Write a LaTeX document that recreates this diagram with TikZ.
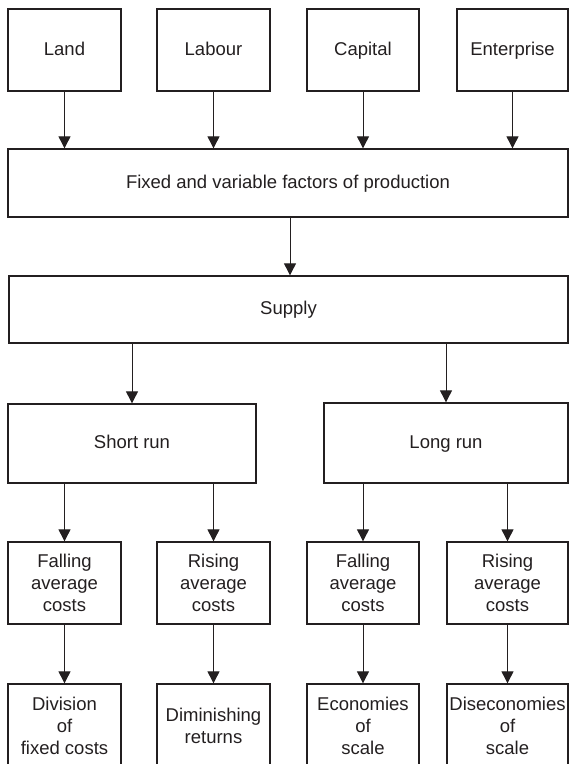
\documentclass[tikz,border=0pt]{standalone}
\usepackage{fontspec}
\setmainfont{Liberation Sans}
\usetikzlibrary{arrows.meta}
\definecolor{ink}{HTML}{231F20}
\tikzset{
  box/.style={draw=ink, line width=1.3pt, rectangle, inner sep=0pt, align=center,
    text=ink, font=\fontsize{18.5}{22}\selectfont},
  oneline/.style={text height=13.5pt, text depth=3.5pt},
  arr/.style={draw=ink, line width=0.9pt, -{Triangle[width=12pt,length=12pt]}}
}
\begin{document}
\begin{tikzpicture}[x=1pt,y=-1pt]
\useasboundingbox (0,0) rectangle (569,764);
\clip (0,0) rectangle (569,764);
% top row
\node[box, oneline, minimum width=113pt, minimum height=82pt] (land) at (64.5,50) {Land};
\node[box, oneline, minimum width=113pt, minimum height=82pt] (labour) at (213.5,50) {Labour};
\node[box, oneline, minimum width=112pt, minimum height=82pt] (capital) at (363,50) {Capital};
\node[box, oneline, minimum width=111pt, minimum height=82pt] (enter) at (512.5,50) {Enterprise};
% wide boxes
\node[box, oneline, minimum width=560pt, minimum height=68pt] (fixed) at (288,183) {Fixed and variable factors of production};
\node[box, oneline, minimum width=559pt, minimum height=67pt] (supply) at (288.5,309.5) {Supply};
\coordinate (fs) at (290,217);
% runs
\node[box, oneline, minimum width=248pt, minimum height=79pt] (short) at (132,443.5) {Short run};
\node[box, oneline, minimum width=244pt, minimum height=80pt] (long) at (446,443) {Long run};
% costs
\node[box, minimum width=113pt, minimum height=82pt] (fall1) at (64.5,583) {Falling\\average\\costs};
\node[box, minimum width=113pt, minimum height=82pt] (rise1) at (213.5,583) {Rising\\average\\costs};
\node[box, minimum width=112pt, minimum height=82pt] (fall2) at (363,583) {Falling\\average\\costs};
\node[box, minimum width=121pt, minimum height=82pt] (rise2) at (507.5,583) {Rising\\average\\costs};
% bottom
\node[box, minimum width=113pt, minimum height=84pt] (div) at (64.5,726) {Division\\of\\fixed costs};
\node[box, minimum width=113pt, minimum height=84pt] (dim) at (213.5,726) {Diminishing\\returns};
\node[box, minimum width=112pt, minimum height=84pt] (eco) at (363,726) {Economies\\of\\scale};
\node[box, minimum width=121pt, minimum height=84pt] (dis) at (507.5,726) {Diseconomies\\of\\scale};
% arrows
\draw[arr] (land.south) -- (land.south |- fixed.north);
\draw[arr] (labour.south) -- (labour.south |- fixed.north);
\draw[arr] (capital.south) -- (capital.south |- fixed.north);
\draw[arr] (enter.south) -- (enter.south |- fixed.north);
\draw[arr] (fs) -- (fs |- supply.north);
\draw[arr] (supply.south -| short.north) -- (short.north);
\draw[arr] (supply.south -| long.north) -- (long.north);
\draw[arr] (short.south -| fall1.north) -- (fall1.north);
\draw[arr] (short.south -| rise1.north) -- (rise1.north);
\draw[arr] (long.south -| fall2.north) -- (fall2.north);
\draw[arr] (long.south -| rise2.north) -- (rise2.north);
\draw[arr] (fall1.south) -- (div.north);
\draw[arr] (rise1.south) -- (dim.north);
\draw[arr] (fall2.south) -- (eco.north);
\draw[arr] (rise2.south) -- (dis.north);
\end{tikzpicture}
\end{document}
